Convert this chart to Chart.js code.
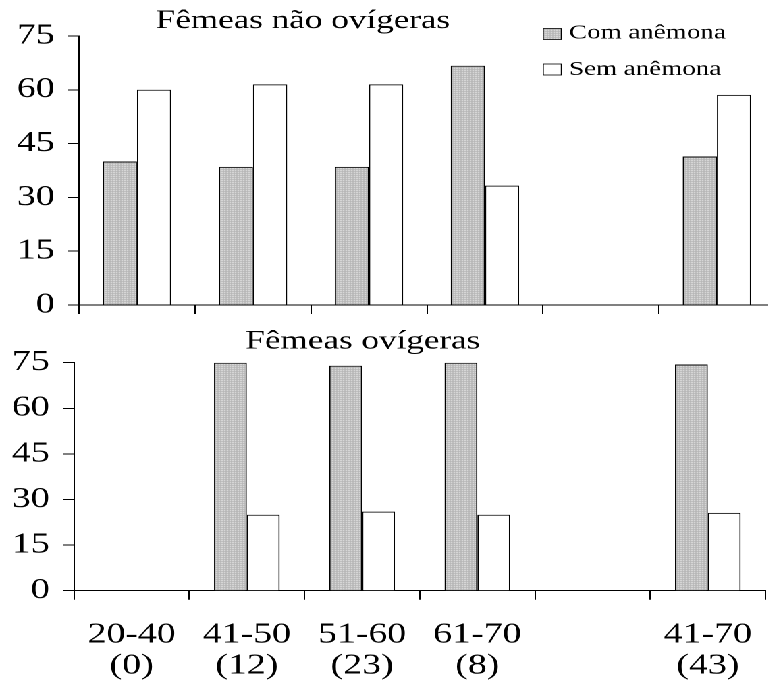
<!DOCTYPE html>
<html>
<head>
<meta charset="utf-8">
<script src="https://cdn.jsdelivr.net/npm/chart.js@4/dist/chart.umd.min.js"></script>
<style>
  html, body { margin: 0; padding: 0; background: #fff; overflow: hidden; }
  /* the original figure is stretched sideways, text included */
  #wrap { width: 580px; transform: scaleX(1.35); transform-origin: 0 0; }
  canvas { display: block; }
</style>
</head>
<body>
<div id="wrap">
  <canvas id="topChart" width="574" height="320"></canvas>
  <canvas id="botChart" width="577" height="370"></canvas>
</div>
<script>
// Data
const categories = [['20-40', '(0)'], ['41-50', '(12)'], ['51-60', '(23)'], ['61-70', '(8)'], '', ['41-70', '(43)']];
const seriesNames = ['Com anêmona', 'Sem anêmona'];
const panelTitles = ['Fêmeas não ovígeras', 'Fêmeas ovígeras'];
const yTicks = [0, 15, 30, 45, 60, 75];

const naoOvigCom = [40, 38.5, 38.5, 66.7, null, 41.4];
const naoOvigSem = [60, 61.5, 61.5, 33.3, null, 58.6];
const ovigCom = [null, 75, 74, 75, null, 74.4];
const ovigSem = [null, 25, 26, 25, null, 25.6];

const FONT = "'Liberation Serif', 'Times New Roman', serif";

// dotted grey fill used for "Com anêmona"
function makePattern() {
    const tile = document.createElement('canvas');
    tile.width = 2;
    tile.height = 2;
    const t = tile.getContext('2d');
    t.fillStyle = '#b4b4b4';
    t.fillRect(0, 0, 2, 2);
    t.fillStyle = '#f2f2f2';
    t.fillRect(0, 0, 1, 1);
    return t.createPattern(tile, 'repeat');
}
const dots = makePattern();

// title + optional legend drawn at fixed spots, like the original figure
const panelText = {
    id: 'panelText',
    afterDraw(chart, args, opts) {
        const ctx = chart.ctx;
        ctx.save();
        ctx.fillStyle = '#000';
        ctx.textBaseline = 'alphabetic';
        ctx.font = '26px ' + FONT;
        ctx.textAlign = 'center';
        ctx.fillText(opts.title, opts.titleX, opts.titleY);

        if (opts.legend) {
            ctx.font = '20px ' + FONT;
            ctx.textAlign = 'left';
            const rows = [
                { fill: dots, box: 28.5, base: 38.5 },
                { fill: '#fff', box: 64, base: 75 }
            ];
            rows.forEach((r, i) => {
                ctx.fillStyle = r.fill;
                ctx.fillRect(402.4, r.box, 13.4, 11);
                ctx.strokeStyle = '#000';
                ctx.lineWidth = 0.8;
                ctx.strokeRect(402.4, r.box, 13.4, 11);
                ctx.fillStyle = '#000';
                ctx.fillText(chart.data.datasets[i].label, 421.5, r.base);
            });
        }
        ctx.restore();
    }
};

function buildChart(canvasId, com, sem, cfg) {
    return new Chart(document.getElementById(canvasId), {
        type: 'bar',
        data: {
            labels: categories,
            datasets: [
                {
                    label: seriesNames[0],
                    data: com,
                    backgroundColor: dots,
                    borderColor: '#000',
                    borderWidth: 1,
                    borderSkipped: 'bottom'
                },
                {
                    label: seriesNames[1],
                    data: sem,
                    backgroundColor: '#fff',
                    borderColor: '#000',
                    borderWidth: 1,
                    borderSkipped: 'bottom'
                }
            ]
        },
        plugins: [panelText],
        options: {
            responsive: false,
            devicePixelRatio: 2,
            animation: false,
            events: [],
            layout: { padding: { top: cfg.top, left: 0, right: 0, bottom: 0 } },
            datasets: {
                bar: { categoryPercentage: cfg.catPct, barPercentage: 1 }
            },
            plugins: {
                legend: { display: false },
                title: { display: false },
                tooltip: { enabled: false },
                panelText: {
                    title: cfg.title,
                    titleX: cfg.titleX,
                    titleY: cfg.titleY,
                    legend: cfg.legend
                }
            },
            scales: {
                x: {
                    offset: true,
                    grid: {
                        display: true,
                        offset: true,
                        drawOnChartArea: false,
                        drawTicks: true,
                        tickLength: 9,
                        color: '#000',
                        lineWidth: 1
                    },
                    border: { display: true, color: '#000', width: 1 },
                    ticks: {
                        display: cfg.showLabels,
                        maxRotation: 0,
                        autoSkip: false,
                        padding: 20,
                        color: '#000',
                        font: { family: FONT, size: 28, lineHeight: 31 / 28 }
                    },
                    afterFit: (s) => { s.height = cfg.xHeight; }
                },
                y: {
                    min: 0,
                    max: 75,
                    afterBuildTicks: (s) => { s.ticks = yTicks.map(v => ({ value: v })); },
                    grid: {
                        display: true,
                        drawOnChartArea: false,
                        drawTicks: true,
                        tickLength: 8,
                        color: '#000',
                        lineWidth: 1
                    },
                    border: { display: true, color: '#000', width: 1 },
                    ticks: {
                        padding: 10,
                        color: '#000',
                        // small line height keeps the label overflow from shrinking the plot
                        font: { family: FONT, size: 28, lineHeight: 0.3 }
                    },
                    afterFit: (s) => { s.width = cfg.yWidth; }
                }
            }
        }
    });
}

buildChart('topChart', naoOvigCom, naoOvigSem, {
    top: 36, xHeight: 15, yWidth: 58.5, catPct: 0.59, showLabels: false,
    title: panelTitles[0], titleX: 224.4, titleY: 28, legend: true
});

buildChart('botChart', ovigCom, ovigSem, {
    top: 42.7, xHeight: 99.3, yWidth: 54.8, catPct: 0.57, showLabels: true,
    title: panelTitles[1], titleX: 268.8, titleY: 28.3, legend: false
});
</script>
</body>
</html>
